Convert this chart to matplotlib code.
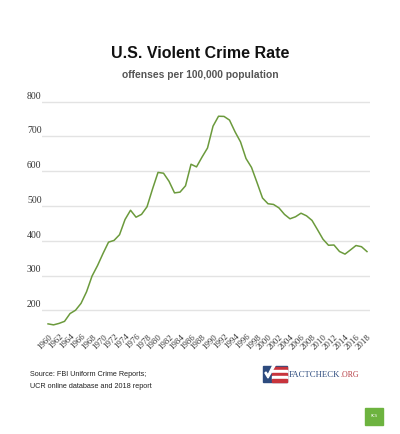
import matplotlib
matplotlib.use("Agg")
import matplotlib.pyplot as plt
from matplotlib.patches import Rectangle, Polygon

# U.S. violent crime rate, offenses per 100,000 population (FBI UCR)
years = list(range(1960, 2019))
rate = [160.9, 158.1, 162.3, 168.2, 190.6, 200.2, 220.0, 253.2, 298.4, 328.7,
        363.5, 396.0, 401.0, 417.4, 461.1, 487.8, 467.8, 475.9, 497.8, 548.9,
        596.6, 594.3, 571.1, 537.7, 539.9, 558.1, 620.1, 612.5, 640.6, 666.9,
        729.6, 758.2, 757.7, 747.1, 713.6, 684.5, 636.6, 611.0, 567.6, 523.0,
        506.5, 504.5, 494.4, 475.8, 463.2, 469.0, 479.3, 471.8, 458.6, 431.9,
        404.5, 387.1, 387.8, 369.1, 361.6, 373.7, 386.3, 382.9, 368.9]
yticks = [200, 300, 400, 500, 600, 700, 800]
xticks = list(range(1960, 2019, 2))

W, H = 400, 434
fig = plt.figure(figsize=(W / 100, H / 100), dpi=100)
fig.patch.set_facecolor("white")

# plot area in pixel terms
x0, x1, y0, y1 = 42, 370, 95, 330
ax = fig.add_axes([x0 / W, 1 - y1 / H, (x1 - x0) / W, (y1 - y0) / H])
ax.set_xlim(1958.9, 2018.55)
ax.set_ylim(143.3, 819.3)

for v in yticks:
    ax.axhline(v, color="#e3e3e3", lw=1.0, zorder=1)
    ax.text(-15 / (x1 - x0), v + 3, str(v), transform=ax.get_yaxis_transform(),
            ha="left", va="bottom", fontsize=7, family="Liberation Serif",
            color="#333333", clip_on=False)

ax.plot(years, rate, color="#6b9a3c", lw=1.1, zorder=3)

ax.set_yticks([])
ax.set_xticks(xticks)
ax.set_xticklabels([str(x) for x in xticks], rotation=45, ha="right", va="top",
                   rotation_mode="anchor", fontsize=6.3, family="Liberation Serif",
                   color="#333333")
ax.tick_params(axis="x", length=0, pad=2)
for s in ax.spines.values():
    s.set_visible(False)

# titles
fig.text(0.5, 1 - 53 / H, "U.S. Violent Crime Rate", ha="center", va="center",
         fontsize=11.5, fontweight="bold", family="Liberation Sans", color="#111111")
fig.text(0.5, 1 - 75 / H, "offenses per 100,000 population", ha="center", va="center",
         fontsize=7.4, fontweight="bold", family="Liberation Sans", color="#555555")

# source note
fig.text(30 / W, 1 - 375 / H, "Source: FBI Uniform Crime Reports;", ha="left", va="center",
         fontsize=5.2, family="Liberation Sans", color="#222222")
fig.text(30 / W, 1 - 386 / H, "UCR online database and 2018 report", ha="left", va="center",
         fontsize=5.2, family="Liberation Sans", color="#222222")

# FactCheck.org logo (rough)
lg = fig.add_axes([0, 0, 1, 1], zorder=5)
lg.set_xlim(0, W)
lg.set_ylim(H, 0)
lg.axis("off")
lg.add_patch(Rectangle((263, 366), 24, 16, color="#2d4b7e"))
for i, c in enumerate(["#c8343c", "white", "#c8343c", "white", "#c8343c"]):
    lg.add_patch(Rectangle((272, 367 + i * 3), 15, 3, color=c))
lg.add_patch(Polygon([[265, 373], [268, 378], [276, 364], [274, 363], [268, 375], [266, 372]],
                     color="white"))

t1 = lg.text(289, 375, "FACTCHECK", fontsize=6.3, family="Liberation Serif",
             color="#2d4b7e", va="center", ha="left")
lg.annotate(".ORG", xy=(1, 0.5), xycoords=t1, fontsize=5.6, family="Liberation Serif",
            color="#b2333b", va="center", ha="left")

# small green badge
lg.add_patch(Rectangle((365, 408), 18, 17, color="#6db33f"))
lg.text(374, 416, "RCS", fontsize=2.5, color="white", ha="center", va="center")

fig.savefig("out.png", dpi=100, facecolor="white")
